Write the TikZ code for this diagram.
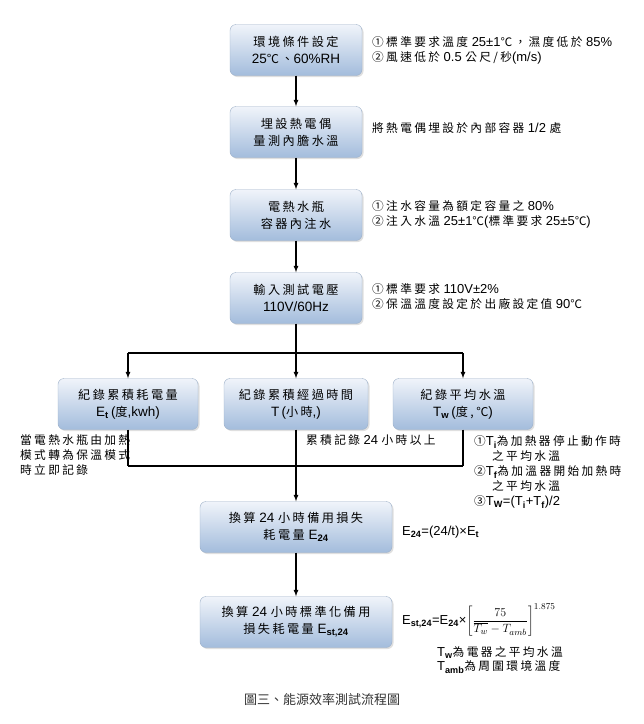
\documentclass[tikz,border=0pt]{standalone}
\usepackage{fontspec}
\setmainfont{Liberation Sans}
\newfontfamily\cjk[Scale=0.9, LetterSpace=20]{Noto Sans CJK TC}
\newfontfamily\cjkcap{Noto Sans CJK TC}
\usetikzlibrary{arrows,shadows,calc}
\definecolor{boxtop}{HTML}{F0F4FA}
\definecolor{boxbot}{HTML}{A3BCDC}
\definecolor{boxline}{HTML}{9DB0C8}
\newcommand{\sub}[1]{\textsubscript{\textbf{#1}}}
\newcommand{\zh}[1]{{\cjk #1}}
\tikzset{
  stepbox/.style={draw=boxline, rounded corners=6pt, top color=boxtop, bottom color=boxbot,
    drop shadow={opacity=0.25, shadow xshift=1.5pt, shadow yshift=-1.5pt},
    align=center, font=\fontsize{13.5}{17}\selectfont, inner sep=0pt, minimum height=51pt},
  note/.style={anchor=west, align=left, font=\fontsize{13}{15}\selectfont, inner sep=0pt},
  flow/.style={-latex, line width=1.2pt},
  link/.style={line width=1.2pt}
}
\begin{document}
\begin{tikzpicture}[x=1pt,y=-1pt]
        \useasboundingbox[fill=white] (0,0) rectangle (644,724);
        % main column
        \begin{scope}[every node/.append style={minimum width=132pt}]
          \node[stepbox] (env) at (296,50) {\zh{環境條件設定}\\25\zh{℃、}60\%RH};
          \node[stepbox] (probe) at (296,132) {\zh{埋設熱電偶}\\\zh{量測內膽水溫}};
          \node[stepbox] (fill) at (296,215) {\zh{電熱水瓶}\\\zh{容器內注水}};
          \node[stepbox] (volt) at (296,298) {\zh{輸入測試電壓}\\110V/60Hz};
        \end{scope}
        \draw[flow] (env) -- (probe);
        \draw[flow] (probe) -- (fill);
        \draw[flow] (fill) -- (volt);
        % three records
        \node[stepbox, minimum width=140pt] (et) at (128,404) {\zh{紀錄累積耗電量}\\E\sub{t}\,(\zh{度},kwh)};
        \node[stepbox, minimum width=144pt] (tm) at (296,404) {\zh{紀錄累積經過時間}\\T\,(\zh{小時},)};
        \node[stepbox, minimum width=140pt] (tw) at (463,404) {\zh{紀錄平均水溫}\\T\sub{w}\,(\zh{度,℃})};
        \coordinate (split) at (296,353);
        \coordinate (merge) at (296,466);
        \draw[link] (volt) -- (split);
        \draw[link] (split -| et) -- (split -| tw);
        \foreach \b in {et,tm,tw}
          \draw[flow] (split -| \b) -- (\b);
        \foreach \b in {et,tw}
          \draw[link] (\b) -- (merge -| \b);
        \draw[link] (merge -| et) -- (merge -| tw);
        % results
        \node[stepbox, minimum width=192pt] (e24) at (296,527) {\zh{換算} 24 \zh{小時備用損失}\\\zh{耗電量} E\sub{24}};
        \node[stepbox, minimum width=192pt] (est) at (296,622) {\zh{換算} 24 \zh{小時標準化備用}\\\zh{損失耗電量} E\sub{st,24}};
        \draw[flow] (tm) -- (e24);
        \draw[flow] (e24) -- (est);
        % notes
        \node[note] (n1) at (372,50) {\zh{①標準要求溫度} 25±1\zh{℃，濕度低於} 85\%\\\zh{②風速低於} 0.5 \zh{公尺/秒}(m/s)};
        \node[note] (n2) at (372,128) {\zh{將熱電偶埋設於內部容器} 1/2 \zh{處}};
        \node[note] (n3) at (372,214.5) {\zh{①注水容量為額定容量之} 80\%\\\zh{②注入水溫} 25±1\zh{℃}(\zh{標準要求} 25±5\zh{℃})};
        \node[note] (n4) at (372,296.5) {\zh{①標準要求} 110V±2\%\\\zh{②保溫溫度設定於出廠設定值} 90\zh{℃}};
        \node[note] (n5) at (20,455) {\zh{當電熱水瓶由加熱}\\\zh{模式轉為保溫模式}\\\zh{時立即記錄}};
        \node[note] (n6) at (306,440) {\zh{累積記錄} 24 \zh{小時以上}};
        \node[note] (n7) at (474,472) {\zh{①}T\sub{i}\zh{為加熱器停止動作時}\\\hspace*{18pt}\zh{之平均水溫}\\\zh{②}T\sub{f}\zh{為加溫器開始加熱時}\\\hspace*{18pt}\zh{之平均水溫}\\\zh{③}T\sub{W}=(T\sub{i}+T\sub{f})/2};
        \node[note] (n8) at (402,532) {E\sub{24}=(24/t)×E\sub{t}};
        \node[note] (n9) at (402,620) {E\sub{st,24}=E\sub{24}×$\displaystyle\left[\frac{75}{\overline{T_w}-T_{amb}}\right]^{1.875}$};
        \node[note, font=\fontsize{13}{14}\selectfont] (n10) at (437,660) {T\sub{w}\zh{為電器之平均水溫}\\T\sub{amb}\zh{為周圍環境溫度}};
        \node[font=\fontsize{13}{14}\selectfont\cjkcap, text=black!80] (cap) at (322,700) {圖三、能源效率測試流程圖};
      \end{tikzpicture}
\end{document}
